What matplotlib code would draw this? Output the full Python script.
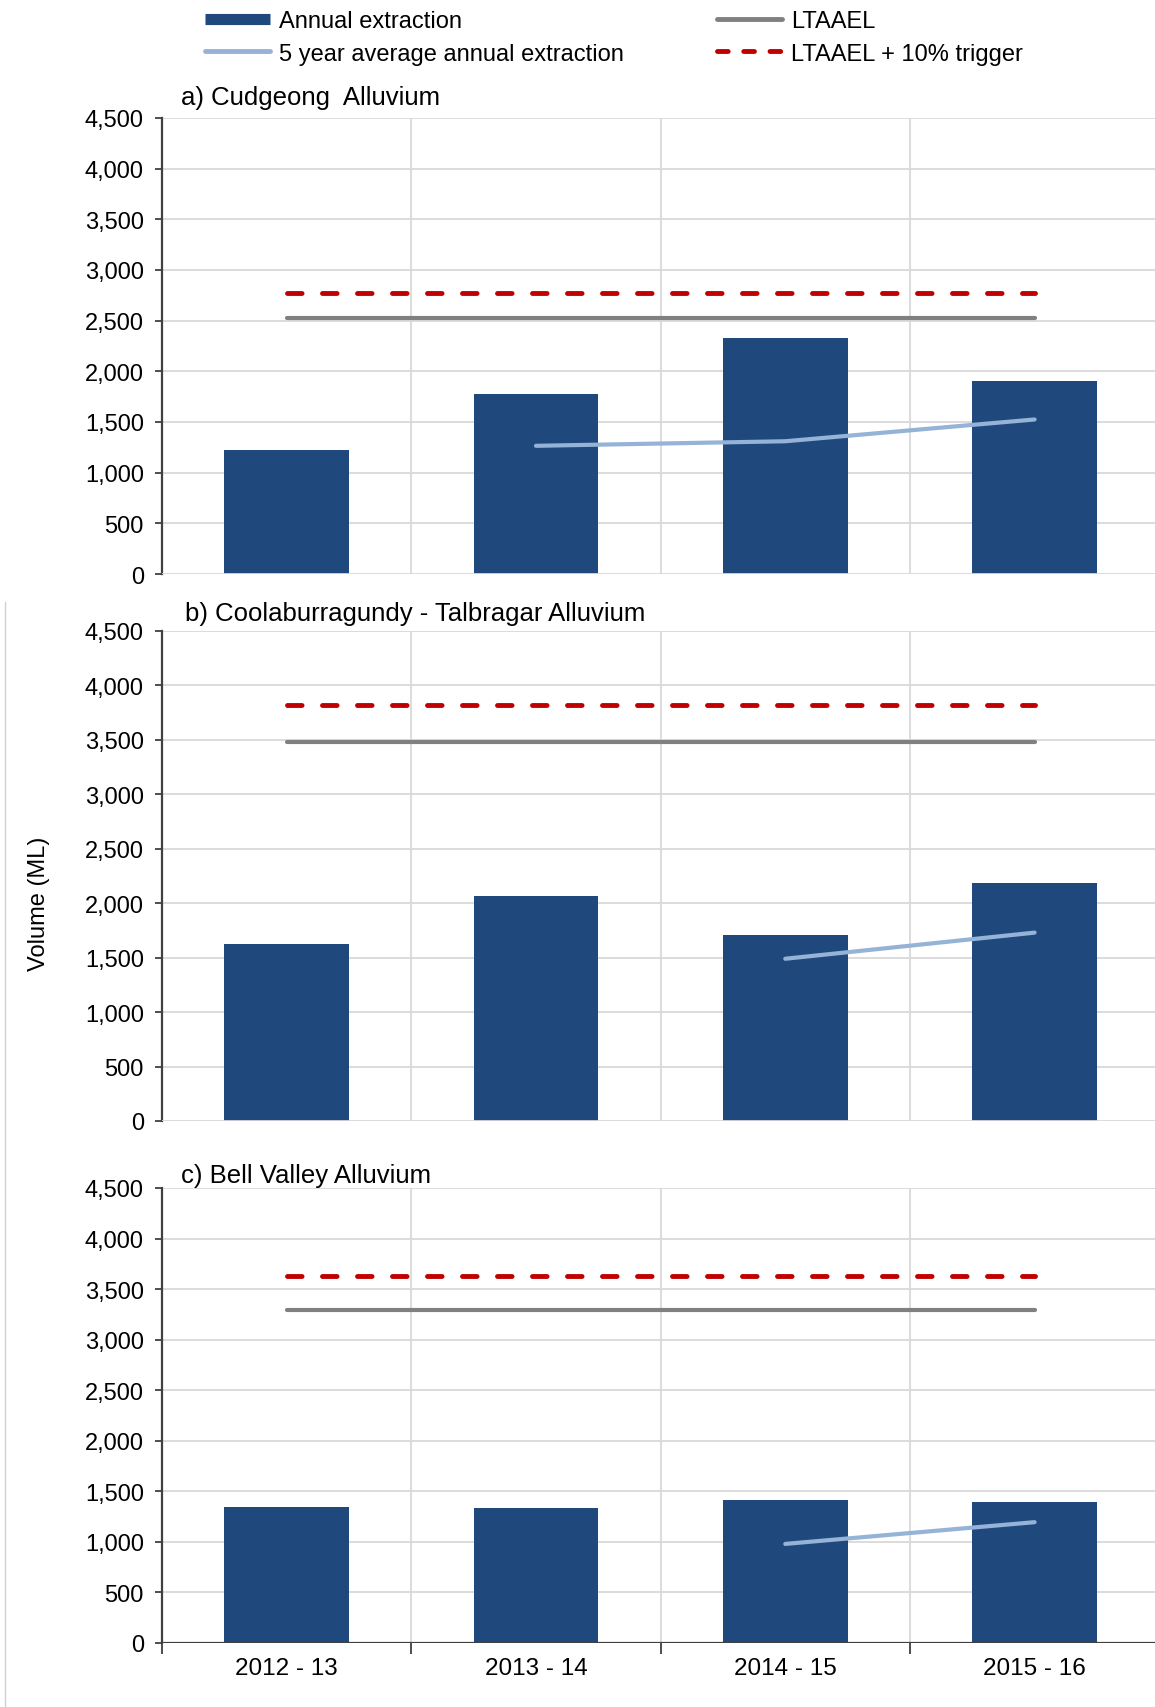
import matplotlib
matplotlib.use("Agg")
import matplotlib.pyplot as plt
from matplotlib.lines import Line2D
from matplotlib.ticker import FuncFormatter, FixedLocator
import numpy as np

plt.rcParams['font.family'] = ['Liberation Sans', 'DejaVu Sans']

categories = ["2012 - 13", "2013 - 14", "2014 - 15", "2015 - 16"]
titles = ["a) Cudgeong  Alluvium", "b) Coolaburragundy - Talbragar Alluvium", "c) Bell Valley Alluvium"]

annual_a = [1220, 1780, 2330, 1900]
annual_b = [1630, 2070, 1710, 2190]
annual_c = [1350, 1335, 1410, 1390]

avg5_a = [None, 1265, 1310, 1525]
avg5_b = [None, None, 1490, 1730]
avg5_c = [None, None, 980, 1195]

ltaael = [2525, 3480, 3295]
trigger = [2775, 3825, 3625]

yticks = [0, 500, 1000, 1500, 2000, 2500, 3000, 3500, 4000, 4500]

BAR = "#1F497D"
AVG = "#95B3D7"
GREY = "#808080"
RED = "#C00000"
GRID = "#D9D9D9"
SPINE = "#404040"

W, H = 1155, 1708
fig = plt.figure(figsize=(W / 100, H / 100), dpi=100)

panels = [
    (annual_a, avg5_a, ltaael[0], trigger[0], 119, 575, (181, 98)),
    (annual_b, avg5_b, ltaael[1], trigger[1], 632, 1122, (185, 614)),
    (annual_c, avg5_c, ltaael[2], trigger[2], 1189, 1644, (181, 1176)),
]

TICK_FS = 17
left_px, right_px = 162, 1155
x = np.arange(len(categories))
for i, (annual, avg5, lt, trg, top, bot, tpos) in enumerate(panels):
    ax = fig.add_axes([left_px / W, 1 - bot / H, (right_px - left_px) / W, (bot - top) / H])
    ax.set_xlim(-0.5, 3.483)
    ax.set_ylim(0, 4500)
    ax.set_axisbelow(True)
    for yv in yticks[1:]:
        ax.axhline(yv, color=GRID, lw=1.3, zorder=0)
    ax.axhline(0, color=GRID if i < 2 else SPINE, lw=1.3 if i < 2 else 1.6, zorder=3)
    for xv in [0.5, 1.5, 2.5]:
        ax.axvline(xv, color=GRID, lw=1.3, zorder=0)
    ax.bar(x, annual, width=0.5, color=BAR, zorder=2)
    ax_x = [xi for xi, v in zip(x, avg5) if v is not None]
    ax_y = [v for v in avg5 if v is not None]
    ax.plot(ax_x, ax_y, color=AVG, lw=3, solid_capstyle='round', zorder=4)
    ax.plot(x[[0, -1]], [lt, lt], color=GREY, lw=3, solid_capstyle='round', zorder=4)
    ax.plot(x[[0, -1]], [trg, trg], color=RED, lw=3.5, dashes=(3, 4.2),
            dash_capstyle='round', zorder=4)
    for s in ['top', 'right', 'bottom']:
        ax.spines[s].set_visible(False)
    ax.spines['left'].set_color(SPINE)
    ax.spines['left'].set_linewidth(1.6)
    ax.set_yticks(yticks)
    ax.yaxis.set_major_formatter(FuncFormatter(lambda v, p: f"{int(v):,}"))
    ax.tick_params(axis='y', direction='out', length=5, width=1.3, color=SPINE,
                   labelsize=TICK_FS, pad=8, labelcolor='black')
    if i < 2:
        ax.set_xticks([])
    else:
        ax.set_xticks(x)
        ax.set_xticklabels(categories)
        ax.tick_params(axis='x', which='major', length=0, labelsize=17.5, pad=10)
        ax.xaxis.set_minor_locator(FixedLocator([-0.5, 0.5, 1.5, 2.5]))
        ax.tick_params(axis='x', which='minor', direction='out', length=8, width=1.3, color=SPINE)
    fig.text(tpos[0] / W, 1 - tpos[1] / H, titles[i], fontsize=18.5, va='center', ha='left')

fig.text(39 / W, 1 - 904 / H, "Volume (ML)", rotation=90, fontsize=17, va='center', ha='center')
fig.add_artist(Line2D([5 / W, 5 / W], [0, 1 - 603 / H], color="#D0D0D0", lw=1))

leg_handles = [
    Line2D([], [], color=BAR, lw=8, solid_capstyle='butt'),
    Line2D([], [], color=AVG, lw=3.5, solid_capstyle='round'),
    Line2D([], [], color=GREY, lw=3.5, solid_capstyle='round'),
    Line2D([], [], color=RED, lw=3.5, dashes=(2.2, 3.2), dash_capstyle='round'),
]
leg_labels = ["Annual extraction", "5 year average annual extraction", "LTAAEL", "LTAAEL + 10% trigger"]
fig.legend(leg_handles, leg_labels, ncol=2, loc='upper left',
           bbox_to_anchor=(205 / W, 1 - 11 / H), frameon=False, fontsize=17,
           handlelength=2.75, handletextpad=0.38, labelspacing=0.45, columnspacing=3.95,
           borderpad=0, borderaxespad=0)

fig.savefig("out.png", dpi=100)
